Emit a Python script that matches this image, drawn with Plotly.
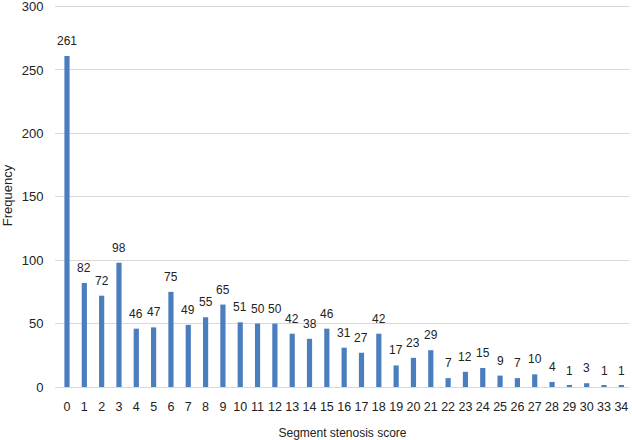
import plotly.graph_objects as go

categories = ["0","1","2","3","4","5","6","7","8","9","10","11","12","13","14","15","16","17","18","19","20","21","22","23","24","25","26","27","28","29","30","33","34"]
values = [261,82,72,98,46,47,75,49,55,65,51,50,50,42,38,46,31,27,42,17,23,29,7,12,15,9,7,10,4,1,3,1,1]
y_ticks = [0,50,100,150,200,250,300]

fig = go.Figure(go.Bar(
    x=categories, y=values,
    marker=dict(color="#4A7EBF", line=dict(width=0)),
    cliponaxis=False,
))
for i, v in enumerate(values):
    fig.add_annotation(x=i, y=v, text=str(v), showarrow=False, yanchor="bottom",
                       yshift=6, font=dict(size=12, color="#222222"))

fig.update_layout(
    width=632, height=440,
    margin=dict(l=55, r=2, t=4, b=53),
    paper_bgcolor="white", plot_bgcolor="white",
    font=dict(family="Liberation Sans, Arial", size=12, color="#222222"),
    bargap=0.7,
    showlegend=False,
    xaxis=dict(type="category", showgrid=False, showline=False, automargin=False,
               ticks="outside", ticklen=8, tickcolor="rgba(0,0,0,0)",
               tickfont=dict(size=12.5),
               title=dict(text="Segment stenosis score", font=dict(size=12), standoff=18)),
    yaxis=dict(range=[0,302], tickvals=y_ticks, ticklabeloverflow="allow",
               showgrid=True, gridcolor="#D9D9D9",
               gridwidth=1, zeroline=True, zerolinecolor="#D9D9D9", zerolinewidth=1,
               showline=False, ticks="outside", ticklen=8, tickcolor="rgba(0,0,0,0)",
               tickfont=dict(size=13), automargin=False,
               title=dict(text="Frequency", font=dict(size=13), standoff=10)),
)
fig.write_html("out.html", config={"displayModeBar": False},
               post_script="document.body.style.margin='0';document.body.style.overflow='hidden';")
